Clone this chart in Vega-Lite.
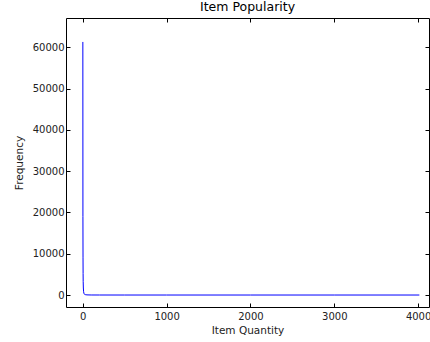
{
  "$schema": "https://vega.github.io/schema/vega-lite/v6.json",
  "width": 363,
  "height": 289,
  "autosize": "none",
  "padding": {"left": 66, "top": 18, "right": 1, "bottom": 35},
  "background": "white",
  "config": {
    "font": "DejaVu Sans",
    "view": {"stroke": "black", "strokeWidth": 1},
    "axis": {"grid": false, "domain": false, "tickColor": "black", "tickSize": -4, "labelColor": "#222", "labelFontSize": 10, "titleFontSize": 10.5, "titleFontWeight": "normal", "titleColor": "#222", "labelFont": "DejaVu Sans", "titleFont": "DejaVu Sans", "format": "d"},
    "title": {"fontSize": 12.5, "fontWeight": "normal", "font": "DejaVu Sans", "color": "black", "offset": 4}
  },
  "title": "Item Popularity",
  "data": {"values": [
    {"q": 1, "f": 61300},
    {"q": 2, "f": 19000},
    {"q": 3, "f": 9000},
    {"q": 4, "f": 5200},
    {"q": 5, "f": 3300},
    {"q": 7, "f": 1700},
    {"q": 10, "f": 800},
    {"q": 15, "f": 350},
    {"q": 20, "f": 190},
    {"q": 30, "f": 90},
    {"q": 50, "f": 35},
    {"q": 100, "f": 10},
    {"q": 200, "f": 3},
    {"q": 500, "f": 1},
    {"q": 1000, "f": 1},
    {"q": 2000, "f": 1},
    {"q": 3000, "f": 1},
    {"q": 4015, "f": 1}
  ]},
  "layer": [
    {
      "mark": {"type": "line", "color": "blue", "strokeWidth": 1, "clip": true},
      "encoding": {
        "x": {"field": "q", "type": "quantitative", "scale": {"domain": [-200, 4130], "nice": false, "zero": false},
              "axis": {"title": "Item Quantity", "format": "d", "values": [0, 1000, 2000, 3000, 4000], "labelPadding": 8, "titlePadding": 4}},
        "y": {"field": "f", "type": "quantitative", "scale": {"domain": [-2900, 67100], "nice": false, "zero": false},
              "axis": {"title": "Frequency", "format": "d", "values": [0, 10000, 20000, 30000, 40000, 50000, 60000], "labelPadding": 6, "titlePadding": 8}}
      }
    },
    {
      "mark": {"type": "line", "opacity": 0},
      "encoding": {
        "x": {"field": "q", "type": "quantitative", "scale": {"domain": [-200, 4130], "nice": false, "zero": false},
              "axis": {"orient": "top", "title": null, "labels": false, "values": [0, 1000, 2000, 3000, 4000]}},
        "y": {"field": "f", "type": "quantitative", "scale": {"domain": [-2900, 67100], "nice": false, "zero": false},
              "axis": {"orient": "right", "title": null, "labels": false, "values": [0, 10000, 20000, 30000, 40000, 50000, 60000]}}
      }
    }
  ],
  "resolve": {"axis": {"x": "independent", "y": "independent"}}
}
